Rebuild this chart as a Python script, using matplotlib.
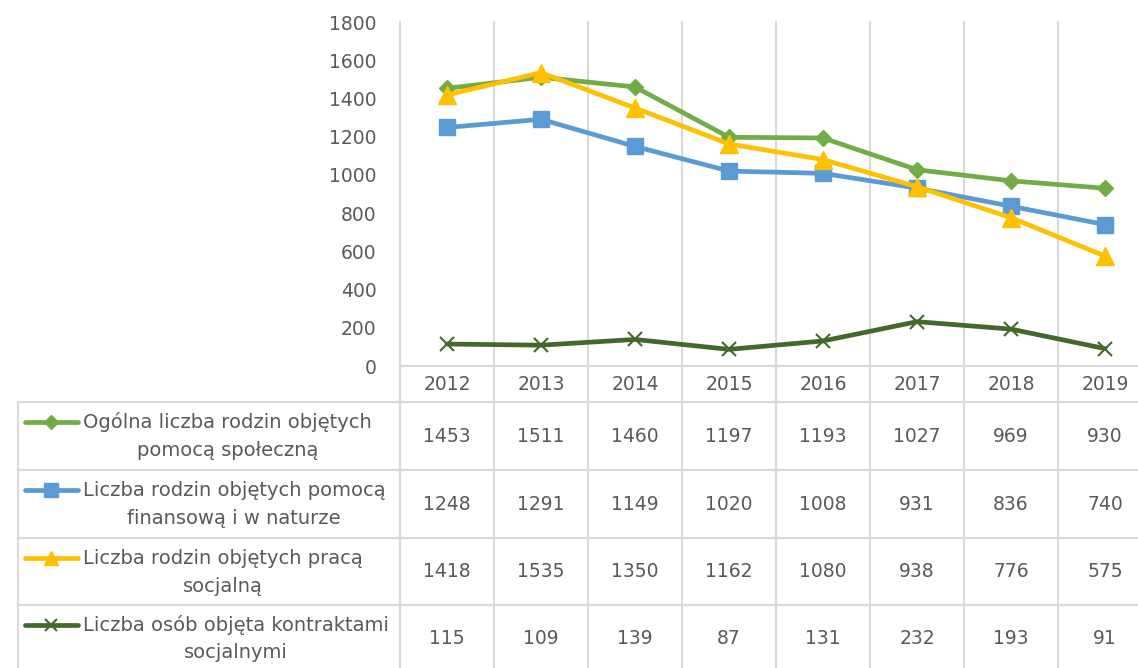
import matplotlib
matplotlib.use("Agg")
import matplotlib.pyplot as plt

plt.rcParams['font.family'] = ['DejaVu Sans']

years = ["2012", "2013", "2014", "2015", "2016", "2017", "2018", "2019"]
ogolna = [1453, 1511, 1460, 1197, 1193, 1027, 969, 930]
finansowa = [1248, 1291, 1149, 1020, 1008, 931, 836, 740]
praca = [1418, 1535, 1350, 1162, 1080, 938, 776, 575]
kontrakty = [115, 109, 139, 87, 131, 232, 193, 91]

series_names = [
    ("Ogólna liczba rodzin objętych", "pomocą społeczną"),
    ("Liczba rodzin objętych pomocą", "finansową i w naturze"),
    ("Liczba rodzin objętych pracą", "socjalną"),
    ("Liczba osób objęta kontraktami", "socjalnymi"),
]
series_vals = [ogolna, finansowa, praca, kontrakty]
colors = ["#70AD47", "#5B9BD5", "#FFC000", "#43682B"]
markers = ["D", "s", "^", "x"]
msizes = [8.5, 12, 12.5, 10]
yticks = [0, 200, 400, 600, 800, 1000, 1200, 1400, 1600, 1800]

W, H = 1138, 668
fig = plt.figure(figsize=(W / 100, H / 100), dpi=100)
renderer = fig.canvas.get_renderer()

TXT = "#595959"
GRID = "#D9D9D9"
FS = 13.5
FSL = 14
LW = 3.4

x0 = 400
cw = 94
ytop = 22
yaxis = 366
n = len(years)

ax = fig.add_axes([x0 / W, (H - yaxis) / H, n * cw / W, (yaxis - ytop) / H])
ax.set_xlim(-0.5, n - 0.5)
ax.set_ylim(0, 1800)
for s in ax.spines.values():
    s.set_visible(False)
ax.set_xticks([])
ax.set_yticks(yticks)
ax.set_yticklabels([str(v) for v in yticks], fontsize=FS, color=TXT)
ax.tick_params(axis='y', length=0, pad=17)
ax.patch.set_alpha(0)

xs = list(range(n))
for vals, c, m, ms in zip(series_vals, colors, markers, msizes):
    kw = dict(color=c, lw=LW, marker=m, markersize=ms, markerfacecolor=c,
              markeredgecolor=c, zorder=3, solid_capstyle='round', solid_joinstyle='round')
    if m == "x":
        kw["markeredgewidth"] = 1.5
    ax.plot(xs, vals, **kw)

ov = fig.add_axes([0, 0, 1, 1], zorder=-1)
ov.set_xlim(0, W)
ov.set_ylim(H, 0)
ov.axis('off')

rows = [402, 470, 538, 605, 673]
right = x0 + n * cw
for k in range(n + 1):
    xv = x0 + k * cw
    ov.plot([xv, xv], [ytop, H], color=GRID, lw=1.5, zorder=0)
ov.plot([x0, right], [yaxis, yaxis], color=GRID, lw=1.5)
for r in rows[:-1]:
    ov.plot([18, right], [r, r], color=GRID, lw=1.5)
ov.plot([18, 18], [rows[0], H], color=GRID, lw=1.5)

for k, yv in enumerate(years):
    ov.text(x0 + k * cw + cw / 2, 384, yv, ha='center', va='center', fontsize=FS, color=TXT)

for i, (names, vals, c, m, ms) in enumerate(zip(series_names, series_vals, colors, markers, msizes)):
    top = rows[i]
    bot = rows[i + 1] if i < 3 else 673
    cy = (top + bot) / 2
    for k, v in enumerate(vals):
        ov.text(x0 + k * cw + cw / 2, cy, str(v), ha='center', va='center', fontsize=FS, color=TXT)
    l1y = top + 20
    l2y = top + 48
    t1 = ov.text(83, l1y, names[0], ha='left', va='center', fontsize=FSL, color=TXT)
    wpx = t1.get_window_extent(renderer=renderer).width
    ov.text(83 + wpx / 2, l2y, names[1], ha='center', va='center', fontsize=FSL, color=TXT)
    ov.plot([25, 78], [l1y, l1y], color=c, lw=LW, solid_capstyle='round')
    mkw = dict(color=c, marker=m, markersize=ms * 0.85, markerfacecolor=c, markeredgecolor=c, lw=0)
    if m == "x":
        mkw["markeredgewidth"] = 1.5
    ov.plot([51], [l1y], **mkw)

fig.savefig("out.png", dpi=100)
